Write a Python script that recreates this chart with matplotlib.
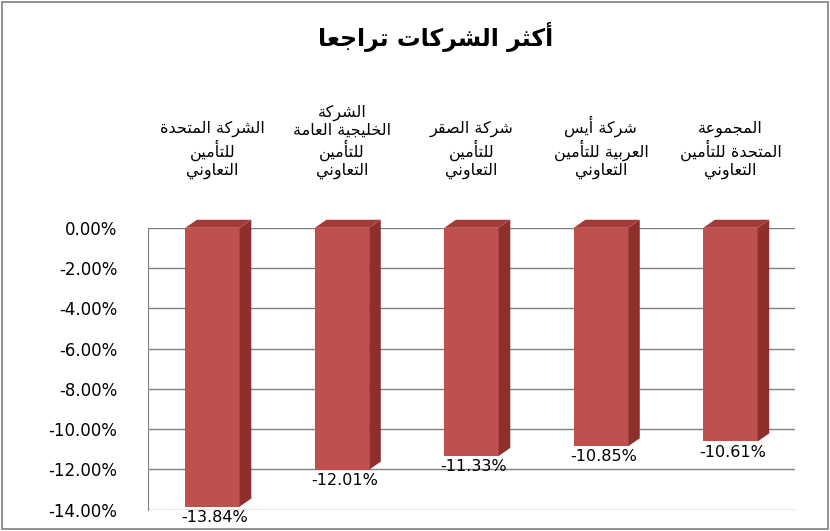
import matplotlib
matplotlib.use("Agg")
import matplotlib.pyplot as plt
from matplotlib.patches import Polygon, Rectangle

categories = ["الشركة المتحدة\nللتأمين\nالتعاوني",
              "الشركة\nالخليجية العامة\nللتأمين\nالتعاوني",
              "شركة الصقر\nللتأمين\nالتعاوني",
              "شركة أيس\nالعربية للتأمين\nالتعاوني",
              "المجموعة\nالمتحدة للتأمين\nالتعاوني"]
values = [-13.84, -12.01, -11.33, -10.85, -10.61]
yticks = [0, -2, -4, -6, -8, -10, -12, -14]
title = "أكثر الشركات تراجعا"

FORMS = {
 'ا':(0xFE8D,0xFE8E,None,None),'أ':(0xFE83,0xFE84,None,None),
 'ب':(0xFE8F,0xFE90,0xFE91,0xFE92),'ة':(0xFE93,0xFE94,None,None),
 'ت':(0xFE95,0xFE96,0xFE97,0xFE98),'ث':(0xFE99,0xFE9A,0xFE9B,0xFE9C),
 'ج':(0xFE9D,0xFE9E,0xFE9F,0xFEA0),'ح':(0xFEA1,0xFEA2,0xFEA3,0xFEA4),
 'خ':(0xFEA5,0xFEA6,0xFEA7,0xFEA8),'د':(0xFEA9,0xFEAA,None,None),
 'ر':(0xFEAD,0xFEAE,None,None),'س':(0xFEB1,0xFEB2,0xFEB3,0xFEB4),
 'ش':(0xFEB5,0xFEB6,0xFEB7,0xFEB8),'ص':(0xFEB9,0xFEBA,0xFEBB,0xFEBC),
 'ع':(0xFEC9,0xFECA,0xFECB,0xFECC),'ق':(0xFED5,0xFED6,0xFED7,0xFED8),
 'ك':(0xFED9,0xFEDA,0xFEDB,0xFEDC),'ل':(0xFEDD,0xFEDE,0xFEDF,0xFEE0),
 'م':(0xFEE1,0xFEE2,0xFEE3,0xFEE4),'ن':(0xFEE5,0xFEE6,0xFEE7,0xFEE8),
 'و':(0xFEED,0xFEEE,None,None),'ي':(0xFEF1,0xFEF2,0xFEF3,0xFEF4),
}
def dual(c): return c in FORMS and FORMS[c][2] is not None
def shape_line(s):
    out = []
    for i, c in enumerate(s):
        if c not in FORMS:
            out.append(c); continue
        prev = s[i-1] if i > 0 else ''
        nxt = s[i+1] if i+1 < len(s) else ''
        jp = dual(prev)
        jn = dual(c) and nxt in FORMS
        f = FORMS[c]
        if jp and jn: ch = f[3]
        elif jp: ch = f[1]
        elif jn: ch = f[2]
        else: ch = f[0]
        out.append(chr(ch))
    return ''.join(out)[::-1]
def ar(s): return "\n".join(shape_line(l) for l in s.split("\n"))

fig = plt.figure(figsize=(8.3, 5.31), dpi=100)
fig.patches.append(Rectangle((0.003, 0.003), 0.994, 0.994, transform=fig.transFigure,
                             fill=False, ec="#7f7f7f", lw=1.2))
fig.text(0.525, 0.93, ar(title), ha="center", va="center", fontsize=17,
         fontweight="bold", family="DejaVu Sans")

ax = fig.add_axes([0.178, 0.04, 0.78, 0.531])
x = list(range(len(values)))
w = 0.42; dx = 0.09; dy = 0.4
ax.set_xlim(-0.5, 4.5); ax.set_ylim(-14, 0)
for t in yticks:
    ax.axhline(t, color="#808080", lw=1, zorder=0)
ax.bar(x, values, width=w, color="#C0504D", zorder=2)
for xi, v in zip(x, values):
    l, r = xi - w/2, xi + w/2
    ax.add_patch(Polygon([(r, 0), (r+dx, dy), (r+dx, v+dy), (r, v)],
                         closed=True, fc="#8E2F2C", zorder=2, clip_on=False))
    ax.add_patch(Polygon([(l, 0), (l+dx, dy), (r+dx, dy), (r, 0)],
                         closed=True, fc="#A33C39", zorder=2, clip_on=False))
    ax.text(xi + 0.02, v - 0.15, f"{v:.2f}%", ha="center", va="top", fontsize=11.5,
            clip_on=False, zorder=3)
    ax.text(xi, 2.4, ar(categories[xi]), ha="center", va="bottom", fontsize=11.5,
            linespacing=1.15, family="DejaVu Sans", clip_on=False)
ax.set_yticks(yticks)
ax.set_yticklabels([f"{t:.2f}%" for t in yticks], fontsize=12)
ax.set_xticks([])
for s in ax.spines.values():
    s.set_visible(False)
ax.spines["left"].set_visible(True)
ax.spines["left"].set_color("#808080")
ax.tick_params(axis="y", length=0, pad=22)
fig.savefig("out.png", dpi=100)
